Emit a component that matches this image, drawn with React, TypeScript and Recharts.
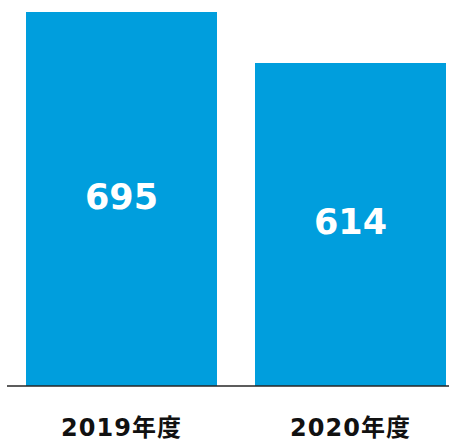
import React from 'react';
import { BarChart, Bar, XAxis, YAxis, LabelList } from 'recharts';

const categories = ['2019年度', '2020年度'];
const values = [695, 614];
const yDomain: [number, number] = [100, 695];

const data = categories.map((c, i) => ({ name: c, value: values[i] }));

const FONT = "'DejaVu Sans', 'Noto Sans CJK JP', sans-serif";

const ValueLabel = (props: any) => {
  const { x, y, width, height, value } = props;
  const cx = x + width / 2;
  const cy = y + height / 2;
  return (
    <text x={cx} y={cy + 10} textAnchor="middle" fill="#ffffff" fontFamily={FONT} fontWeight="bold" fontSize={35}>
      {value}
    </text>
  );
};

const CatTick = (props: any) => {
  const { x, payload } = props;
  return (
    <text x={x} y={436} textAnchor="middle" fill="#111111" fontFamily={FONT} fontWeight="bold" fontSize={24} letterSpacing={1}>
      {payload.value}
    </text>
  );
};

export default function App() {
  return (
    <div style={{ position: 'absolute', left: 0, top: 0, width: 449, height: 442, overflow: 'hidden', background: '#fff' }}>
      <BarChart width={465} height={442} data={data} margin={{ top: 12, right: 0, bottom: 0, left: 7 }} barSize={191}>
        <XAxis
          dataKey="name"
          height={56}
          axisLine={{ stroke: '#262626', strokeWidth: 1.4 }}
          tickLine={false}
          tick={<CatTick />}
          interval={0}
        />
        <YAxis hide domain={yDomain} allowDataOverflow />
        <Bar dataKey="value" fill="#009EDD" isAnimationActive={false}>
          <LabelList dataKey="value" content={<ValueLabel />} />
        </Bar>
      </BarChart>
    </div>
  );
}
